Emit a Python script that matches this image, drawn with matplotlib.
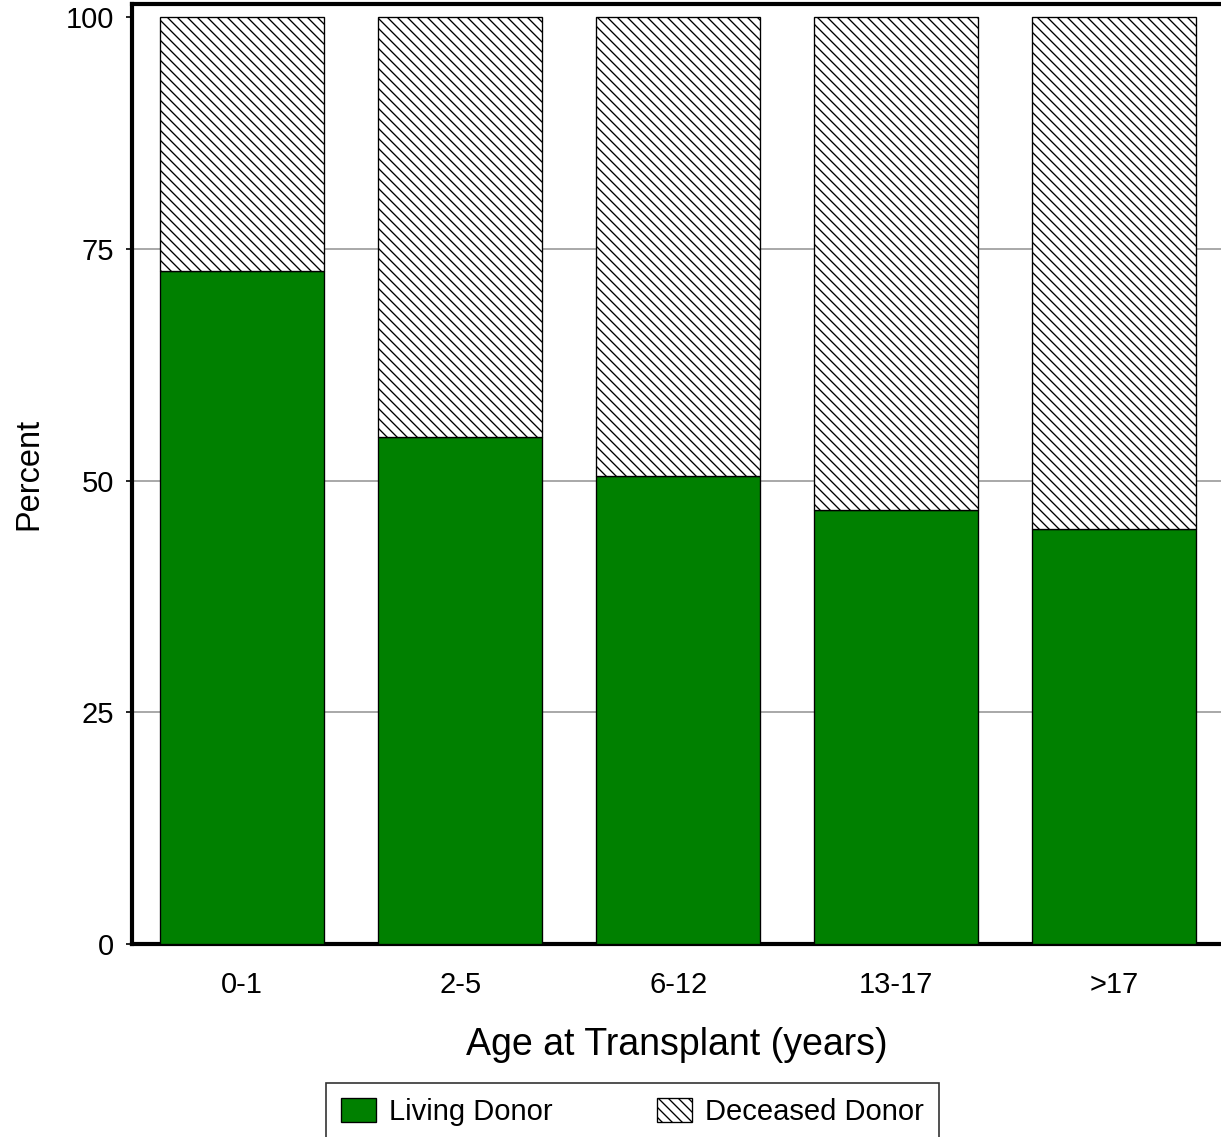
import matplotlib.pyplot as plt
import numpy as np

plt.rcParams['font.family'] = ['Liberation Sans', 'DejaVu Sans']
plt.rcParams['hatch.linewidth'] = 0.8

ages = ['0-1', '2-5', '6-12', '13-17', '>17']
living = [72.6, 54.7, 50.5, 46.8, 44.8]
deceased = [100 - v for v in living]

green = '#008000'

fig = plt.figure(figsize=(1221 / 120, 1137 / 120), dpi=120)
ax = fig.add_axes([0.1081, 0.1697, 0.8919, 0.8268])

x = np.arange(len(ages))
width = 0.75
ax.bar(x, living, width, color=green, edgecolor='black', linewidth=0.8,
       label='Living Donor', zorder=3)
ax.bar(x, deceased, width, bottom=living, color='white', edgecolor='black',
       linewidth=0.8, hatch='\\\\\\\\', label='Deceased Donor', zorder=3)

ax.set_xlim(-0.505, 4.49)
ax.set_ylim(0, 101.4)
ax.set_yticks([0, 25, 50, 75, 100])
ax.set_xticks(x)
ax.set_xticklabels(ages)
ax.tick_params(axis='y', labelsize=17.5, length=3.5, width=1, pad=7)
ax.tick_params(axis='x', labelsize=17.5, length=0, pad=16)
for yv in [25, 50, 75]:
    ax.axhline(yv, color='#999999', linewidth=1.0, zorder=0)

for side in ['left', 'bottom', 'top']:
    ax.spines[side].set_linewidth(2.5)
ax.spines['right'].set_visible(False)

ax.set_ylabel('Percent', fontsize=19.5, labelpad=13)
ax.set_xlabel('Age at Transplant (years)', fontsize=22.5, labelpad=17)

leg = fig.legend(loc='upper left', bbox_to_anchor=(326 / 1221, 1 - 1083 / 1137),
                 ncol=2, fontsize=17.5, frameon=True, fancybox=False,
                 edgecolor='black', handlelength=1.2, handleheight=0.9, borderpad=0.5,
                 borderaxespad=0, columnspacing=3.6, handletextpad=0.45)
leg.get_frame().set_linewidth(1.0)

fig.savefig('out.png', dpi=120)
